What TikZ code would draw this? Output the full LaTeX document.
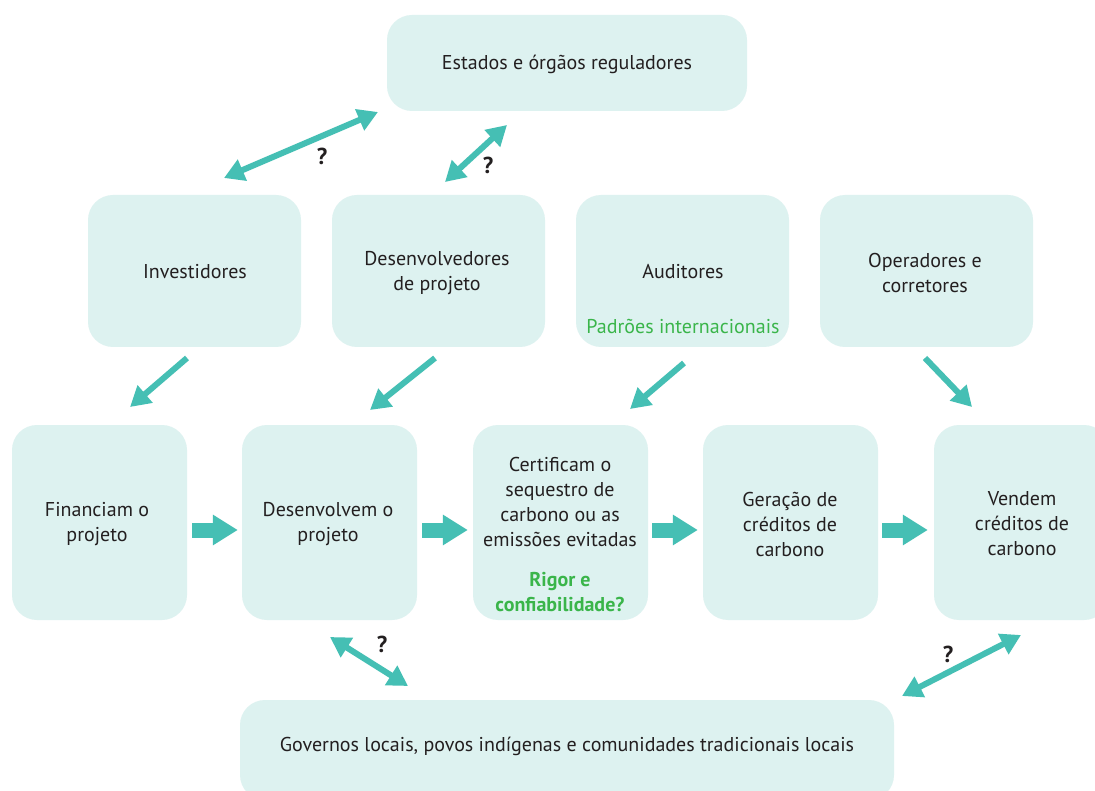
\documentclass[tikz,border=0pt]{standalone}
\usepackage{fontspec}
\setmainfont{PT Sans}
\usetikzlibrary{arrows.meta,calc}
\definecolor{boxfill}{HTML}{DDF2F0}
\definecolor{arrowc}{HTML}{45BFB4}
\definecolor{greentxt}{HTML}{3AB54A}
\definecolor{txt}{HTML}{231F20}
\tikzset{
  box/.style={fill=boxfill, rounded corners=25pt, inner sep=0pt, align=center, text=txt,
    font=\fontsize{20}{25}\selectfont},
  topbox/.style={box, minimum width=360pt, minimum height=96pt},
  midbox/.style={box, minimum width=213pt, minimum height=152pt},
  lowbox/.style={box, minimum width=175pt, minimum height=195pt},
  botbox/.style={box, minimum width=654pt, minimum height=100pt},
  lbl/.style={text=txt, align=center, font=\fontsize{20}{25}\selectfont},
  glbl/.style={text=greentxt, align=center, font=\fontsize{20}{25}\selectfont},
  qm/.style={text=txt, font=\fontsize{23}{24}\selectfont\bfseries},
  dbl/.style={draw=arrowc, line width=6pt, {Triangle[length=20pt,width=22pt]}-{Triangle[length=20pt,width=22pt]}},
  sgl/.style={draw=arrowc, line width=6pt, -{Triangle[length=20pt,width=22pt]}},
  blk/.style={draw=arrowc, line width=15pt, -{Triangle[length=25pt,width=29pt]}},
}
\begin{document}
\begin{tikzpicture}[x=1pt,y=-1pt]
\clip (0,0) rectangle (1095,791);
\fill[white] (0,0) rectangle (1095,791);
% boxes
\node[topbox] (est) at (567,63) {};
\node[midbox] (inv) at (194.5,271) {};
\node[midbox] (des) at (438.5,271) {};
\node[midbox] (aud) at (682.5,271) {};
\node[midbox] (ope) at (926.5,271) {};
\node[lowbox] (fin) at (99.5,522.5) {};
\node[lowbox] (dvm) at (329.5,522.5) {};
\node[lowbox] (cer) at (560.5,522.5) {};
\node[lowbox] (ger) at (790.5,522.5) {};
\node[lowbox] (ven) at (1021.5,522.5) {};
\node[botbox] (gov) at (567,750) {};
% texts
\node[lbl] (test) at (567,64) {Estados e órgãos reguladores};
\node[lbl] (tinv) at (195,272) {Investidores};
\node[lbl] (tdes) at (437,273) {Desenvolvedores\\de projeto};
\node[lbl] (taud) at (683,272) {Auditores};
\node[glbl] (tpad) at (683,326) {Padrões internacionais};
\node[lbl] (tope) at (925,273) {Operadores e\\corretores};
\node[lbl] (tfin) at (97,524) {Financiam o\\projeto};
\node[lbl] (tdvm) at (328,524) {Desenvolvem o\\projeto};
\node[lbl] (tcer) at (560,502) {Certificam o\\sequestro de\\carbono ou as\\emissões evitadas};
\node[glbl, font=\fontsize{20}{25}\selectfont\bfseries] (trig) at (560,592) {Rigor e\\confiabilidade?};
\node[lbl] (tger) at (790,524) {Geração de\\créditos de\\carbono};
\node[lbl] (tven) at (1022,524) {Vendem\\créditos de\\carbono};
\node[lbl] (tgov) at (567,746) {Governos locais, povos indígenas e comunidades tradicionais locais};
% arrow end points
\coordinate (a1s) at (224,178); \coordinate (a1e) at (378,112);
\coordinate (a2s) at (445,182); \coordinate (a2e) at (507,125);
\coordinate (d1s) at (187,358); \coordinate (d1e) at (130,407);
\coordinate (d2s) at (435,358); \coordinate (d2e) at (370,410);
\coordinate (d3s) at (684,363); \coordinate (d3e) at (630,409);
\coordinate (d4s) at (925,358); \coordinate (d4e) at (972,407);
\coordinate (b1s) at (330,637); \coordinate (b1e) at (408,686);
\coordinate (b2s) at (902,696); \coordinate (b2e) at (1021,635);
% double arrows
\draw[dbl] (a1s) -- (a1e);
\draw[dbl] (a2s) -- (a2e);
\draw[dbl] (b1s) -- (b1e);
\draw[dbl] (b2s) -- (b2e);
% single arrows
\draw[sgl] (d1s) -- (d1e);
\draw[sgl] (d2s) -- (d2e);
\draw[sgl] (d3s) -- (d3e);
\draw[sgl] (d4s) -- (d4e);
% block arrows
\draw[blk] ($(fin.east)+(5,7.5)$) -- ($(dvm.west)+(-4,7.5)$);
\draw[blk] ($(dvm.east)+(5,7.5)$) -- ($(cer.west)+(-5,7.5)$);
\draw[blk] ($(cer.east)+(4,7.5)$) -- ($(ger.west)+(-5,7.5)$);
\draw[blk] ($(ger.east)+(4,7.5)$) -- ($(ven.west)+(-6,7.5)$);
% question marks
\node[qm] (q1) at (322,156) {?};
\node[qm] (q2) at (488,165) {?};
\node[qm] (q3) at (382,644) {?};
\node[qm] (q4) at (948,654) {?};
\end{tikzpicture}
\end{document}
